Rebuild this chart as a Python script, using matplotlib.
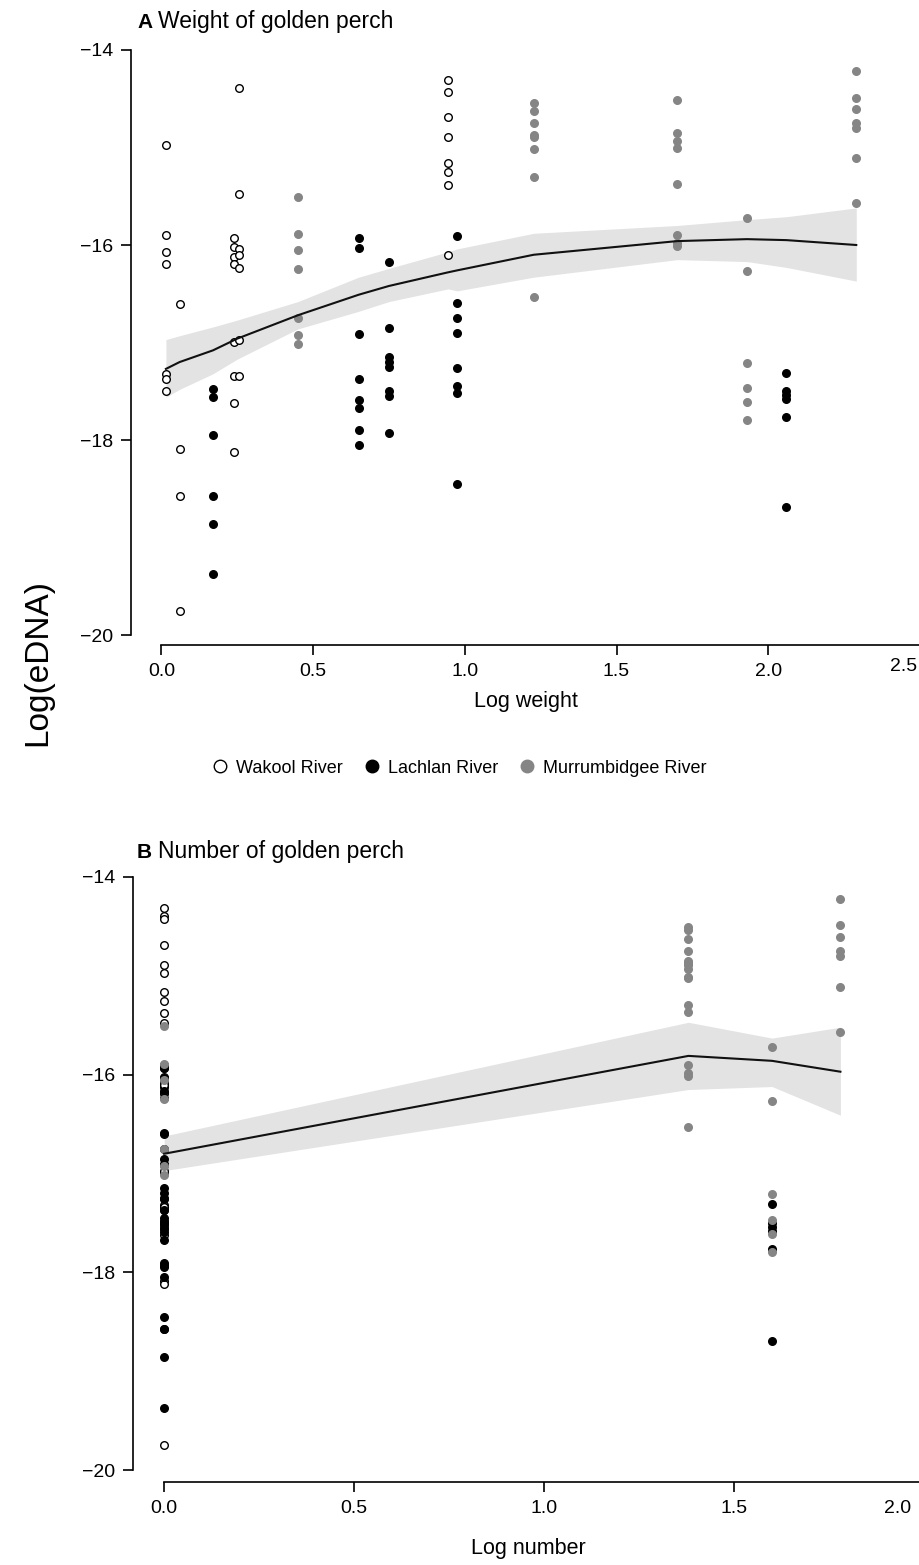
import matplotlib
matplotlib.use("Agg")
import matplotlib.pyplot as plt
import matplotlib.transforms as mtransforms
from matplotlib.lines import Line2D

plt.rcParams['font.family'] = ['Liberation Sans', 'DejaVu Sans']

W, H = 919, 1565

# --- data: each group = one site visit (river, log weight, log number, log eDNA values)
rivers = ["Wakool River", "Lachlan River", "Murrumbidgee River"]

group_river = ["Wakool River"] * 5 + ["Lachlan River"] * 5 + ["Murrumbidgee River"] * 5
group_logw = [0.015, 0.06, 0.24, 0.255, 0.945,
              0.17, 0.65, 0.75, 0.975, 2.06,
              0.45, 1.227, 1.70, 1.93, 2.29]
group_logn = [0, 0, 0, 0, 0,
              0, 0, 0, 0, 1.60,
              0, 1.38, 1.38, 1.60, 1.78]
group_edna = [
    [-14.97, -15.90, -16.07, -16.19, -17.32, -17.37, -17.50],
    [-16.60, -18.09, -18.57, -19.75],
    [-15.93, -16.02, -16.12, -16.19, -16.99, -17.34, -17.62, -18.12],
    [-14.39, -15.48, -16.04, -16.10, -16.24, -16.97, -17.34],
    [-14.31, -14.43, -14.69, -14.89, -15.16, -15.25, -15.38, -16.10],
    [-17.48, -17.56, -17.95, -18.57, -18.86, -19.37],
    [-15.93, -16.03, -16.91, -17.37, -17.59, -17.67, -17.90, -18.05],
    [-16.17, -16.85, -17.15, -17.20, -17.25, -17.50, -17.55, -17.93],
    [-15.91, -16.59, -16.75, -16.90, -17.26, -17.45, -17.52, -18.45],
    [-17.31, -17.50, -17.54, -17.58, -17.76, -18.69],
    [-15.51, -15.89, -16.05, -16.25, -16.75, -16.92, -17.01],
    [-14.54, -14.63, -14.75, -14.87, -14.89, -15.02, -15.30, -16.53],
    [-14.51, -14.85, -14.93, -15.01, -15.37, -15.90, -15.98, -16.01],
    [-15.72, -16.27, -17.21, -17.47, -17.61, -17.79],
    [-14.22, -14.49, -14.61, -14.75, -14.80, -15.11, -15.57],
]

# fitted curve and confidence band, panel A (log weight)
fitA_x = [0.015, 0.06, 0.17, 0.25, 0.45, 0.65, 0.75, 0.945, 0.975, 1.227, 1.70, 1.93, 2.06, 2.29]
fitA_y = [-17.27, -17.20, -17.08, -16.96, -16.72, -16.51, -16.42, -16.28, -16.26, -16.10, -15.96, -15.94, -15.95, -16.00]
fitA_hi = [-16.97, -16.93, -16.84, -16.77, -16.58, -16.33, -16.24, -16.07, -16.04, -15.88, -15.80, -15.74, -15.71, -15.62]
fitA_lo = [-17.56, -17.48, -17.32, -17.17, -16.86, -16.68, -16.58, -16.45, -16.47, -16.33, -16.15, -16.17, -16.23, -16.37]

# fitted curve and confidence band, panel B (log number)
fitB_x = [0.0, 1.38, 1.60, 1.78]
fitB_y = [-16.80, -15.81, -15.86, -15.97]
fitB_hi = [-16.62, -15.47, -15.63, -15.52]
fitB_lo = [-16.97, -16.15, -16.12, -16.41]

face = {"Wakool River": "white", "Lachlan River": "black", "Murrumbidgee River": "#858585"}
edge = {"Wakool River": "black", "Lachlan River": "black", "Murrumbidgee River": "#858585"}
band_col = "#e3e3e3"


def px_box(left, right, top, bottom):
    return [left / W, 1 - bottom / H, (right - left) / W, (bottom - top) / H]


fig = plt.figure(figsize=(W / 100, H / 100), dpi=100)
# the reference is cut at the right edge, so the last tick sits on the border
axA = fig.add_axes(px_box(131, 920, 45, 645))
axB = fig.add_axes(px_box(133, 924, 872, 1482))


def draw(ax, xs_key, fx, fy, flo, fhi):
    ax.fill_between(fx, flo, fhi, color=band_col, lw=0, zorder=1)
    for river, xw, xn, vals in zip(group_river, group_logw, group_logn, group_edna):
        x = xw if xs_key == "w" else xn
        ax.scatter([x] * len(vals), vals, s=30, facecolor=face[river],
                   edgecolor=edge[river], linewidths=1.0, zorder=2)
    ax.plot(fx, fy, color="#111111", lw=1.5, zorder=3)
    for s in ("top", "right"):
        ax.spines[s].set_visible(False)
    for s in ("left", "bottom"):
        ax.spines[s].set_linewidth(1.2)
    ax.set_yticks([-20, -18, -16, -14])
    ax.set_yticklabels(["\u221220", "\u221218", "\u221216", "\u221214"])
    ax.spines["left"].set_bounds(-20, -14)
    ax.tick_params(direction="out", length=7, width=1.2, labelsize=14, pad=6)
    ax.patch.set_alpha(0)


def shift_last_label(ax, dx, dy):
    lab = ax.get_xticklabels()[-1]
    lab.set_transform(lab.get_transform() +
                      mtransforms.ScaledTranslation(dx / 100, dy / 100, fig.dpi_scale_trans))


draw(axA, "w", fitA_x, fitA_y, fitA_lo, fitA_hi)
axA.set_xlim(-0.10, 2.5)
axA.set_ylim(-20.10, -13.95)
axA.set_xticks([0, 0.5, 1.0, 1.5, 2.0, 2.5])
axA.set_xticklabels(["0.0", "0.5", "1.0", "1.5", "2.0", "2.5"])
axA.spines["bottom"].set_bounds(0, 2.5)
axA.set_xlabel("Log weight", fontsize=15.5, labelpad=8)
shift_last_label(axA, -16, 5)

draw(axB, "n", fitB_x, fitB_y, fitB_lo, fitB_hi)
axB.set_xlim(-0.082, 2.0)
axB.set_ylim(-20.12, -13.95)
axB.set_xticks([0, 0.5, 1.0, 1.5, 2.0])
axB.set_xticklabels(["0.0", "0.5", "1.0", "1.5", "2.0"])
axB.spines["bottom"].set_bounds(0, 2.0)
axB.set_xlabel("Log number", fontsize=15.5, labelpad=15)
shift_last_label(axB, -26, 0)

# panel titles
fig.text(137 / W, 1 - 28 / H, "A", fontsize=15, fontweight="bold", va="baseline")
fig.text(158 / W, 1 - 28 / H, "Weight of golden perch", fontsize=16.5, va="baseline")
fig.text(137 / W, 1 - 858 / H, "B", fontsize=15, fontweight="bold", va="baseline")
fig.text(158 / W, 1 - 858 / H, "Number of golden perch", fontsize=16.5, va="baseline")

# shared y label
fig.text(38 / W, 1 - 663 / H, "Log(eDNA)", fontsize=24, rotation=90,
         ha="center", va="center")

# legend between panels
handles = [Line2D([], [], ls="none", marker="o", markersize=9,
                  markerfacecolor=face[r], markeredgecolor=edge[r], markeredgewidth=1.0)
           for r in rivers]
fig.legend(handles, rivers, loc="center", bbox_to_anchor=(458 / W, 1 - 768 / H),
           ncol=3, frameon=False, fontsize=13, handletextpad=0.3,
           columnspacing=1.0, handlelength=1.2)

fig.savefig("out.png", dpi=100)
